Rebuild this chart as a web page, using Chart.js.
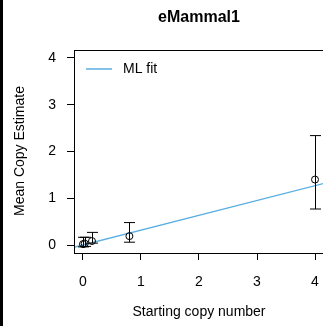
<!DOCTYPE html>
<html>
<head>
<meta charset="utf-8">
<script src="https://cdn.jsdelivr.net/npm/chart.js@4"></script>
<style>
  html, body { margin: 0; padding: 0; background: #fff; overflow: hidden; }
  #wrap { position: relative; width: 324px; height: 326px; }
  #edge { position: absolute; left: 0; top: 0; width: 3px; height: 326px; background: #000; }
  canvas { position: absolute; left: 0; top: 0; }
</style>
</head>
<body>
<div id="wrap">
  <canvas id="chart" width="324" height="326"></canvas>
  <div id="edge"></div>
</div>
<script>
// data
const obsX = [0.0, 0.03, 0.155, 0.8, 4.0];
const obsY = [0.02, 0.03, 0.085, 0.19, 1.40];
const errLow = [-0.04, -0.03, 0.04, 0.06, 0.77];
const errHigh = [0.165, 0.165, 0.27, 0.48, 2.34];
const fitX = [-0.16, 4.16];
const fitY = [-0.05, 1.32];
const xTicks = [0, 1, 2, 3, 4];
const yTicks = [0, 1, 2, 3, 4];

const FONT = '"Liberation Sans", Arial, Helvetica, sans-serif';
const LINE_COLOR = '#5aafe2';

const decor = {
    id: 'decor',
    afterDatasetsDraw(chart) {
        const ctx = chart.ctx;
        const a = chart.chartArea;
        const xs = chart.scales.x, ys = chart.scales.y;
        ctx.save();
        // error bars
        ctx.strokeStyle = '#000';
        ctx.lineWidth = 1;
        for (let i = 0; i < obsX.length; i++) {
            const px = Math.round(xs.getPixelForValue(obsX[i])) + 0.5;
            const lo = ys.getPixelForValue(errLow[i]);
            const hi = ys.getPixelForValue(errHigh[i]);
            ctx.beginPath();
            ctx.moveTo(px, lo); ctx.lineTo(px, hi);
            ctx.moveTo(px - 5.5, hi); ctx.lineTo(px + 5.5, hi);
            ctx.moveTo(px - 5.5, lo); ctx.lineTo(px + 5.5, lo);
            ctx.stroke();
        }
        // box
        ctx.strokeRect(a.left + 0.5, a.top + 0.5, a.right - a.left, a.bottom - a.top);
        // legend
        ctx.strokeStyle = LINE_COLOR;
        ctx.lineWidth = 1.5;
        ctx.beginPath();
        ctx.moveTo(86, 69); ctx.lineTo(112, 69);
        ctx.stroke();
        ctx.fillStyle = '#000';
        ctx.font = '14px ' + FONT;
        ctx.textBaseline = 'middle';
        ctx.textAlign = 'left';
        ctx.fillText('ML fit', 123, 69);
        // titles
        ctx.textAlign = 'center';
        ctx.font = 'bold 16px ' + FONT;
        ctx.fillText('eMammal1', 199, 18);
        ctx.font = '14px ' + FONT;
        ctx.fillText('Starting copy number', 199, 312);
        ctx.translate(20, 151);
        ctx.rotate(-Math.PI / 2);
        ctx.fillText('Mean Copy Estimate', 0, 0);
        ctx.restore();
    }
};

new Chart(document.getElementById('chart'), {
    type: 'scatter',
    data: {
        datasets: [
            {
                label: 'ML fit',
                type: 'line',
                data: fitX.map((x, i) => ({ x: x, y: fitY[i] })),
                borderColor: LINE_COLOR,
                borderWidth: 1.3,
                pointRadius: 0,
                fill: false,
                order: 2
            },
            {
                label: 'obs',
                data: obsX.map((x, i) => ({ x: x, y: obsY[i] })),
                pointStyle: 'circle',
                pointRadius: 3.5,
                borderColor: '#000',
                borderWidth: 1,
                backgroundColor: 'rgba(0,0,0,0)',
                order: 1
            }
        ]
    },
    options: {
        responsive: false,
        animation: false,
        layout: { padding: { left: 0, top: 50, right: 0, bottom: 0 }, autoPadding: false },
        plugins: { legend: { display: false }, tooltip: { enabled: false } },
        scales: {
            x: {
                type: 'linear',
                min: -0.155,
                max: 4.155,
                afterBuildTicks: (s) => { s.ticks = xTicks.map(v => ({ value: v })); },
                afterFit: (s) => { s.height = 73; s.paddingRight = 0; },
                grid: { drawOnChartArea: false, tickLength: 7, color: '#000' },
                border: { display: false },
                ticks: { color: '#000', padding: 14, font: { size: 14, family: FONT }, maxRotation: 0 }
            },
            y: {
                type: 'linear',
                min: -0.171,
                max: 4.171,
                afterBuildTicks: (s) => { s.ticks = yTicks.map(v => ({ value: v })); },
                afterFit: (s) => { s.width = 74; },
                grid: { drawOnChartArea: false, tickLength: 7, color: '#000' },
                border: { display: false },
                ticks: { color: '#000', padding: 11, font: { size: 14, family: FONT } }
            }
        }
    },
    plugins: [decor]
});
</script>
</body>
</html>
